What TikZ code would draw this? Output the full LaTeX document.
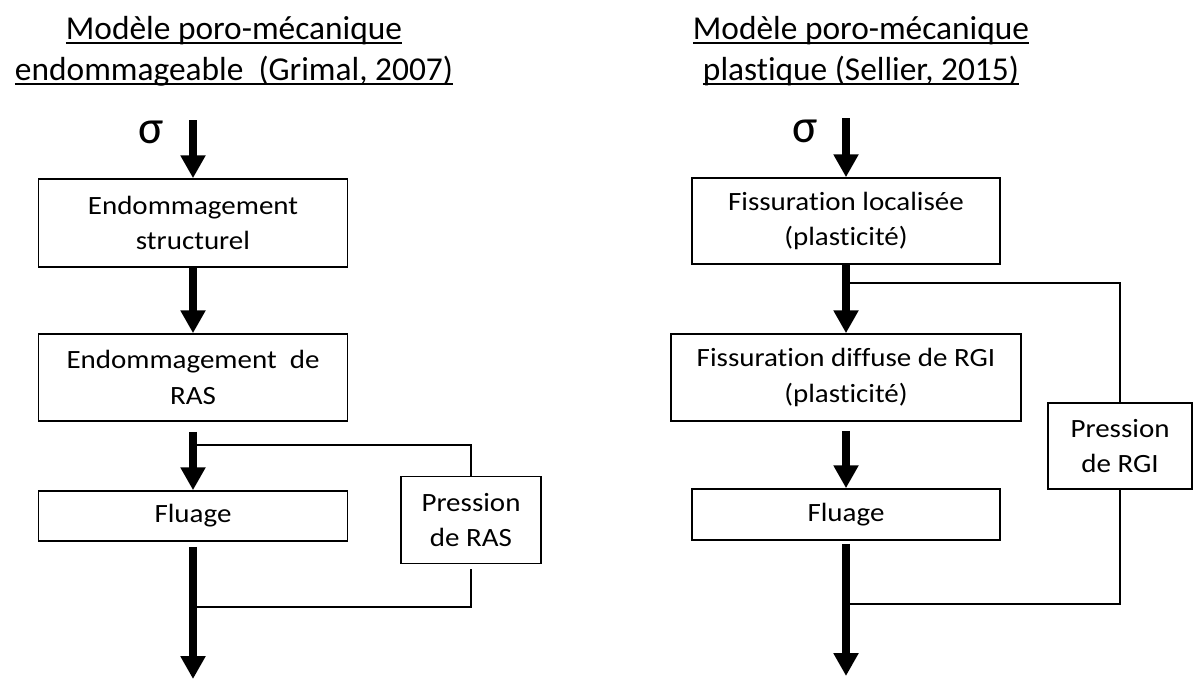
\documentclass[tikz,border=0pt]{standalone}
\usepackage{fontspec}
\setmainfont{Carlito}[Ligatures=NoCommon]
\newfontfamily\boxfont{Carlito}[FakeStretch=1.1,Ligatures=NoCommon]
\usetikzlibrary{arrows.meta}

\newcommand\titleline[1]{\setbox0\hbox{#1}\rlap{\rule[-2.6pt]{\wd0}{1.1pt}}\box0}

\begin{document}
\begin{tikzpicture}[x=0.02cm,y=-0.02cm,
    box/.style={draw,line width=0.9pt,align=center,inner sep=0pt,
      font=\boxfont\fontsize{15}{20}\selectfont},
    titletext/.style={anchor=base,font=\fontsize{19}{23}\selectfont},
    sigmatext/.style={font=\fontsize{27}{30}\selectfont},
    flow/.style={line width=4pt,-{Triangle[width=13.5pt,length=13pt]}},
    feed/.style={line width=1.1pt}]

      \useasboundingbox (0,0) rectangle (1193,680);

      % modele endommageable
      \node[titletext] (titA1) at (234,39) {\titleline{Modèle poro-mécanique}};
      \node[titletext] (titA2) at (234,80) {\titleline{endommageable~ (Grimal, 2007)}};
      \node[sigmatext] (sigA) at (151,132) {σ};

      \node[box,minimum width=6.18cm,minimum height=1.76cm] (endoStr) at (193,223) {Endommagement\\structurel};
      \node[box,minimum width=6.18cm,minimum height=1.74cm] (endoRas) at (193,377.5) {Endommagement~ de\\RAS};
      \node[box,minimum width=6.18cm,minimum height=1.0cm]  (fluA)    at (193,516) {Fluage};
      \node[box,minimum width=2.8cm,minimum height=1.74cm]  (presRas) at (471,520) {Pression\\de RAS};

      \coordinate (topA)   at (193,120);
      \coordinate (splitA) at (193,445);
      \coordinate (joinA)  at (193,607);
      \coordinate (endA)   at (193,679);

      \draw[flow] (topA) -- (endoStr.north);
      \draw[flow] (endoStr.south) -- (endoRas.north);
      \draw[flow,shorten <=0.2cm] (endoRas.south) -- (fluA.north);
      \draw[flow,shorten <=0.1cm] (fluA.south) -- (endA);
      \draw[feed] (splitA) -| (presRas.north);
      \draw[feed,shorten <=0.1cm] (presRas.south) |- (joinA);

      % modele plastique
      \node[titletext] (titB1) at (861,39) {\titleline{Modèle poro-mécanique}};
      \node[titletext] (titB2) at (861,80) {\titleline{plastique (Sellier, 2015)}};
      \node[sigmatext] (sigB) at (805,131) {σ};

      \node[box,minimum width=6.16cm,minimum height=1.72cm] (fisLoc)  at (846,221) {Fissuration localisée\\(plasticité)};
      \node[box,minimum width=7.0cm,minimum height=1.74cm]  (fisDif)  at (846,377.5) {Fissuration diffuse de RGI\\(plasticité)};
      \node[box,minimum width=6.16cm,minimum height=1.02cm] (fluB)    at (846,514.5) {Fluage};
      \node[box,minimum width=2.88cm,minimum height=1.72cm] (presRgi) at (1120,446) {Pression\\de RGI};

      \coordinate (topB)   at (846,118);
      \coordinate (splitB) at (846,283);
      \coordinate (joinB)  at (846,604);
      \coordinate (endB)   at (846,676);

      \draw[flow] (topB) -- (fisLoc.north);
      \draw[flow] (fisLoc.south) -- (fisDif.north);
      \draw[flow,shorten <=0.18cm] (fisDif.south) -- (fluB.north);
      \draw[flow,shorten <=0.06cm] (fluB.south) -- (endB);
      \draw[feed] (splitB) -| (presRgi.north);
      \draw[feed] (presRgi.south) |- (joinB);

\end{tikzpicture}
\end{document}
